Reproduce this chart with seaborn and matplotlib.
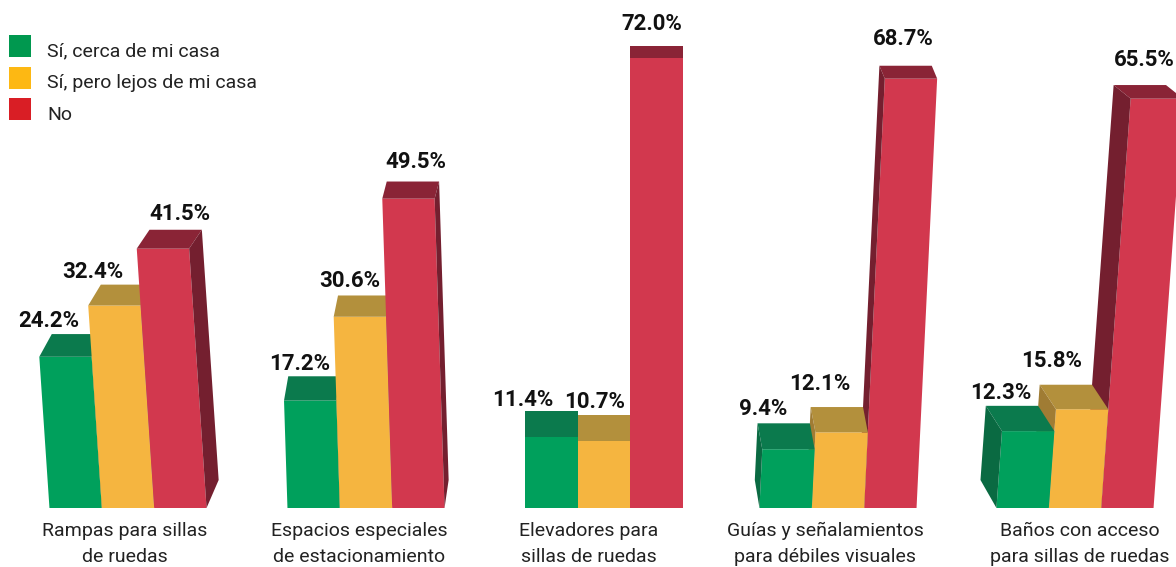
import matplotlib
matplotlib.use("Agg")
import matplotlib.pyplot as plt
from matplotlib.patches import Polygon, Patch
from matplotlib.transforms import Affine2D
import seaborn as sns
import pandas as pd

categories = ["Rampas para sillas\nde ruedas", "Espacios especiales\nde estacionamiento",
              "Elevadores para\nsillas de ruedas", "Guías y señalamientos\npara débiles visuales",
              "Baños con acceso\npara sillas de ruedas"]
series = ["Sí, cerca de mi casa", "Sí, pero lejos de mi casa", "No"]
cerca = [24.2, 17.2, 11.4, 9.4, 12.3]
lejos = [32.4, 30.6, 10.7, 12.1, 15.8]
no = [41.5, 49.5, 72.0, 68.7, 65.5]

# styling / layout only
colors = ["#00a05c", "#f5b540", "#d2384e"]
cap_colors = ["#0b7a4d", "#b3903c", "#8a2436"]
side_colors = ["#0a6a42", "#a07c34", "#741f2f"]
legend_colors = ["#00984f", "#fdb813", "#d91e25"]
tilt = [-0.42, -0.2, 0.0, 0.3, 0.45]     # px of lean per percentage point
depth = [14, 5, 0, -6, -18]              # px of visible side face
shift = [0, 0, 0, -4, -5]                # px of group nudge
label_dx = [[-27, -35, 0], [-14, -16, -2], [-29, -9, -5], [-26, -22, 9], [-27, -28, 12]]
label_dy = [[36, 33, 35], [37, 36, 37], [37, 39, 34], [40, 48, 40], [38, 48, 39]]
tick_px = [125, 359, 589, 825, 1080]

W, H, BASE, PX_PER_PCT, X0, STEP = 1176, 567, 508, 6.25, 128, 238

sns.set_theme(style="white")
plt.rcParams["font.family"] = ["Roboto", "DejaVu Sans"]

df = pd.DataFrame({"categoria": categories * 3,
                   "serie": sum([[s] * 5 for s in series], []),
                   "valor": cerca + lejos + no})

fig = plt.figure(figsize=(W / 100, H / 100), dpi=100)
ax = fig.add_axes([0, (H - BASE) / H, 1, BASE / H])
sns.barplot(data=df, x="categoria", y="valor", hue="serie", hue_order=series,
            order=categories, palette=colors, width=0.66, gap=0, saturation=1,
            errorbar=None, legend=False, linewidth=0, ax=ax)
ax.set_xlim(-X0 / STEP, (W - X0) / STEP)
ax.set_ylim(0, BASE / PX_PER_PCT)
ax.set_xlabel("")
ax.set_ylabel("")
ax.set_yticks([])
ax.set_xticks([(p - X0) / STEP for p in tick_px])
ax.set_xticklabels(categories, fontsize=14, color="#222222", linespacing=1.55)
ax.tick_params(axis="x", length=0, pad=10)
sns.despine(ax=ax, left=True, bottom=True, top=True, right=True)
ax.patch.set_alpha(0)

for s, cont in enumerate(ax.containers):
    for g, b in enumerate(cont):
        sk = tilt[g] / STEP
        tr = Affine2D(matrix=[[1, sk, shift[g] / STEP], [0, 1, 0], [0, 0, 1]]) + ax.transData
        z = 2 + s if depth[g] >= 0 else 4 - s
        b.set_transform(tr)
        b.set_zorder(z)
        h = b.get_height()
        l, r = b.get_x(), b.get_x() + b.get_width()
        d = depth[g] / STEP
        v = cont.datavalues[g]
        cap = (28 - 0.22 * v) / PX_PER_PCT
        foot = 28 / PX_PER_PCT
        ax.add_patch(Polygon([(l, h), (r, h), (r + d, h + cap), (l + d, h + cap)],
                             closed=True, color=cap_colors[s], lw=0, transform=tr, zorder=z))
        if d != 0:
            e = r if d > 0 else l
            ax.add_patch(Polygon([(e, 0), (e + d, foot), (e + d, h + cap), (e, h)],
                                 closed=True, color=side_colors[s], lw=0, transform=tr, zorder=z))
        ax.annotate(f"{v:.1f}%", xy=(b.get_x() + b.get_width() / 2, h),
                    xytext=(label_dx[g][s], label_dy[g][s]), textcoords="offset pixels",
                    ha="center", va="center", fontsize=16, fontweight="bold",
                    color="#111111", annotation_clip=False, zorder=10)

handles = [Patch(color=c, label=l, lw=0) for c, l in zip(legend_colors, series)]
leg = ax.legend(handles=handles, loc="upper left", bbox_to_anchor=(9 / W, 1 - 35 / BASE),
                frameon=False, fontsize=14, handlelength=1.13, handleheight=1.36,
                handletextpad=0.82, labelspacing=0.5, borderaxespad=0, borderpad=0,
                labelcolor="#222222")
for t in leg.get_texts():
    t.set_y(-4)
fig.savefig("out.png", dpi=100)
